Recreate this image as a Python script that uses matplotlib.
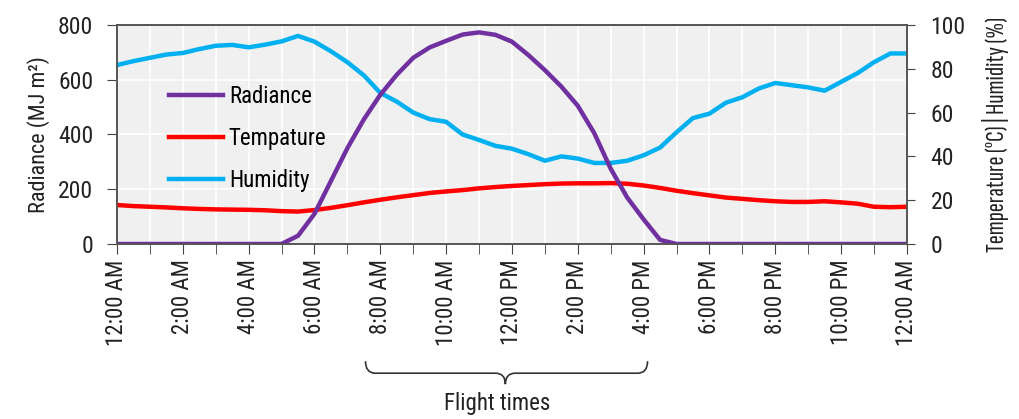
import numpy as np
import matplotlib.pyplot as plt
from matplotlib.path import Path
from matplotlib.patches import PathPatch
import matplotlib.transforms as mtransforms

plt.rcParams['font.family'] = ['Roboto Condensed', 'DejaVu Sans']

# half-hour samples over one day (hours since midnight)
hours = np.arange(0, 24.5, 0.5)

radiance = [0, 0, 0, 0, 0, 0, 0, 0, 0, 0, 0, 30,
            110, 230, 350, 455, 545, 618, 680, 718, 742, 765, 773, 764,
            739, 690, 635, 575, 505, 405, 275, 170, 90, 15, 0, 0,
            0, 0, 0, 0, 0, 0, 0, 0, 0, 0, 0, 0, 0]

temperature = [17.8, 17.3, 17.0, 16.7, 16.3, 16.0, 15.8, 15.7, 15.6, 15.4, 15.0, 14.8,
               15.5, 16.5, 17.7, 19.0, 20.2, 21.3, 22.3, 23.3, 24.0, 24.6, 25.4, 26.0,
               26.5, 26.9, 27.3, 27.6, 27.7, 27.7, 27.8, 27.5, 26.7, 25.6, 24.3, 23.2,
               22.2, 21.2, 20.6, 20.0, 19.5, 19.2, 19.2, 19.5, 19.0, 18.4, 17.0, 16.8, 17.0]

humidity = [81.7, 83.5, 85.0, 86.5, 87.2, 89.0, 90.5, 90.9, 89.8, 91.0, 92.5, 95.0,
            92.4, 88.0, 83.0, 77.0, 69.0, 65.0, 60.0, 57.0, 55.8, 50.0, 47.5, 44.8,
            43.5, 41.0, 38.0, 40.0, 39.0, 37.0, 37.0, 38.0, 40.5, 44.0, 51.0, 57.5,
            59.5, 64.5, 67.0, 71.0, 73.5, 72.5, 71.5, 70.0, 74.0, 78.0, 83.0, 87.0, 87.0]

tick_hours = np.arange(0, 25, 2)
tick_labels = ['12:00 AM', '2:00 AM', '4:00 AM', '6:00 AM', '8:00 AM', '10:00 AM',
               '12:00 PM', '2:00 PM', '4:00 PM', '6:00 PM', '8:00 PM', '10:00 PM', '12:00 AM']

fig = plt.figure(figsize=(10.19, 4.19), dpi=100)
ax = fig.add_axes([0.1148, 0.4177, 0.7752, 0.5227])
ax2 = ax.twinx()

ax.set_facecolor('#f0f0f0')
ax.set_xlim(0, 24)
ax.set_ylim(0, 800)
ax2.set_ylim(0, 100)

ax.set_xticks(tick_hours)
ax.set_xticklabels(tick_labels, rotation=90, fontsize=16.5)
ax.set_xticks(np.arange(1, 24, 2), minor=True)
ax.grid(True, which='both', color='white', linewidth=1.2)
ax.set_axisbelow(True)

ax.set_yticks([0, 200, 400, 600, 800])
ax.tick_params(axis='y', labelsize=17, length=7, pad=10, color='#444444', labelcolor='#222222')
ax.tick_params(axis='x', which='both', length=7, color='#444444', pad=4, labelcolor='#222222')
ax2.set_yticks([0, 20, 40, 60, 80, 100])
ax2.tick_params(axis='y', labelsize=17, length=6, pad=11, color='#444444', labelcolor='#222222')

for a in (ax, ax2):
    for s in a.spines.values():
        s.set_color('#555555')
        s.set_linewidth(1.2)

# right-axis series first so radiance draws on top
l2, = ax2.plot(hours, temperature, color='#ff0000', linewidth=3.2, label='Tempature')
l3, = ax2.plot(hours, humidity, color='#00b0f0', linewidth=3.2, label='Humidity')
l1, = ax2.plot(hours, np.array(radiance) / 8, color='#7030a0', linewidth=3.2, label='Radiance')

ax.set_ylabel('Radiance (MJ m²)', fontsize=16, labelpad=6, color='#222222')
ax2.set_ylabel('Temperature (°C) | Humidity (%)', fontsize=19.5, labelpad=12, color='#222222',
               family=['Sofia Sans Extra Condensed', 'Roboto Condensed', 'DejaVu Sans'])

ax2.legend(handles=[l1, l2, l3], loc='upper left', bbox_to_anchor=(0.040, 0.818),
           frameon=False, fontsize=16.5, handlelength=2.35, handletextpad=0.25,
           labelspacing=0.82)

# brace under the flight window
trans = mtransforms.blended_transform_factory(ax.transData, ax.transAxes)
x0, x1, xm = 7.55, 16.12, 11.8
ytop, ymid = -0.535, -0.59
verts = [(x0, ytop), (x0, ymid), (x0 + 0.3, ymid),
         (xm - 0.3, ymid), (xm, ymid), (xm, ymid - 0.05),
         (xm, ymid), (xm + 0.3, ymid),
         (x1 - 0.3, ymid), (x1, ymid), (x1, ytop)]
codes = [Path.MOVETO, Path.CURVE3, Path.CURVE3,
         Path.LINETO, Path.CURVE3, Path.CURVE3,
         Path.CURVE3, Path.CURVE3,
         Path.LINETO, Path.CURVE3, Path.CURVE3]
brace = PathPatch(Path(verts, codes), transform=trans, fill=False,
                  edgecolor='#333333', linewidth=1.2, clip_on=False)
ax.add_patch(brace)
ax.text(11.55, -0.73, 'Flight times', transform=trans, ha='center', va='center',
        fontsize=16.5, color='#222222')

fig.savefig('out.png', dpi=100)
